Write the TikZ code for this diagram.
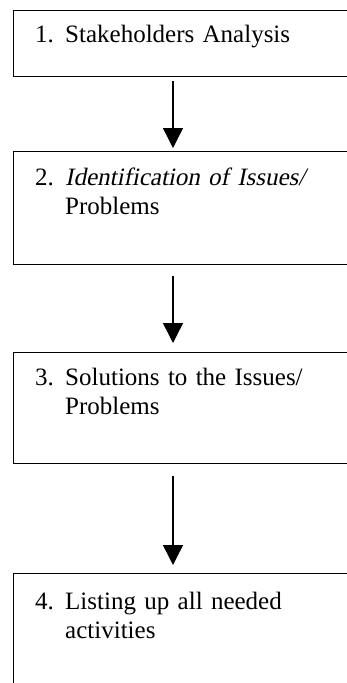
\documentclass[tikz,border=0pt]{standalone}
\usepackage{fontspec}
\setmainfont{Liberation Serif}
\newfontfamily\slantfont[FakeSlant=0.2]{Liberation Serif}
\usetikzlibrary{arrows.meta}
\begin{document}
\begin{tikzpicture}[x=1pt,y=1pt]
	\tikzstyle{every node}+=[inner sep=0pt]
	\tikzstyle{stage}=[draw, line width=1pt, anchor=north west, minimum width=360pt]
	\tikzstyle{item}=[anchor=base west, text width=300pt, align=left, font=\fontsize{25}{29}\selectfont]
	\tikzstyle{flow}=[line width=1.4pt, -{Triangle[length=20pt,width=20pt]}]
	\path[use as bounding box, clip] (0,0) rectangle (347,-683);
	\fill[white] (0,0) rectangle (347,-683);
	\node[stage, minimum height=66pt] (s1) at (13,-10) {};
	\node[stage, minimum height=113pt] (s2) at (13,-151) {};
	\node[stage, minimum height=111pt] (s3) at (13,-352) {};
	\node[stage, minimum height=140pt] (s4) at (13,-573) {};
	\node[item] (t1) at ([xshift=22pt,yshift=-32pt]s1.north west) {\makebox[30pt][l]{1.}Stakeholders Analysis};
	\node[item] (t2) at ([xshift=22pt,yshift=-34pt]s2.north west) {\makebox[30pt][l]{2.}{\slantfont Identification of Issues/}\\\hspace*{30pt}Problems};
	\node[item] (t3) at ([xshift=22pt,yshift=-33pt]s3.north west) {\makebox[30pt][l]{3.}Solutions to the Issues/\\\hspace*{30pt}Problems};
	\node[item] (t4) at ([xshift=22pt,yshift=-36pt]s4.north west) {\makebox[30pt][l]{4.}Listing up all needed\\\hspace*{30pt}activities};
	\draw[flow] ([xshift=160pt,yshift=-4pt]s1.south west) -- ([xshift=160pt,yshift=3pt]s2.north west);
	\draw[flow] ([xshift=160pt,yshift=-11pt]s2.south west) -- ([xshift=160pt,yshift=9pt]s3.north west);
	\draw[flow] ([xshift=160pt,yshift=-12pt]s3.south west) -- ([xshift=160pt,yshift=8pt]s4.north west);
\end{tikzpicture}
\end{document}
